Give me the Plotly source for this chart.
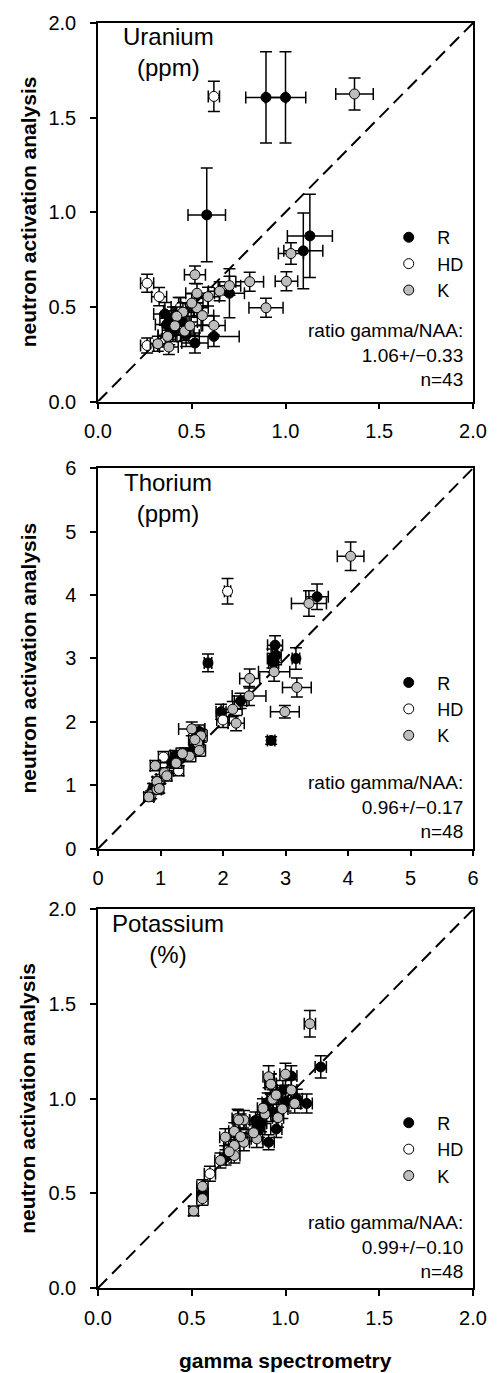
import plotly.graph_objects as go

# ---------------- data ----------------
groups = ["R", "HD", "K"]

# Uranium (ppm)
u_R_x = [0.896, 1.000, 0.580, 1.130, 1.095, 0.701, 0.618, 0.517, 0.357, 0.413, 0.366, 0.400, 0.450, 0.380, 0.470, 0.430]
u_R_y = [1.607, 1.607, 0.986, 0.875, 0.796, 0.572, 0.344, 0.309, 0.463, 0.377, 0.407, 0.440, 0.420, 0.350, 0.350, 0.480]
u_R_xe = [0.108, 0.108, 0.100, 0.120, 0.104, 0.080, 0.135, 0.070, 0.060, 0.070, 0.060, 0.070, 0.080, 0.060, 0.070, 0.080]
u_R_ye = [0.241, 0.241, 0.248, 0.220, 0.200, 0.130, 0.053, 0.053, 0.060, 0.060, 0.050, 0.060, 0.070, 0.050, 0.060, 0.070]
u_HD_x = [0.618, 0.262, 0.326, 0.262, 0.440]
u_HD_y = [1.612, 0.625, 0.554, 0.296, 0.500]
u_HD_xe = [0.030, 0.035, 0.040, 0.035, 0.050]
u_HD_ye = [0.080, 0.048, 0.048, 0.040, 0.050]
u_K_x = [1.368, 1.029, 0.517, 0.809, 1.005, 0.896, 0.701, 0.649, 0.587, 0.528, 0.528, 0.557, 0.453, 0.618, 0.462, 0.371, 0.319, 0.378, 0.420, 0.490, 0.410, 0.500]
u_K_y = [1.625, 0.782, 0.670, 0.633, 0.635, 0.495, 0.612, 0.583, 0.554, 0.572, 0.495, 0.454, 0.472, 0.402, 0.372, 0.344, 0.305, 0.288, 0.450, 0.400, 0.400, 0.520]
u_K_xe = [0.100, 0.067, 0.056, 0.074, 0.060, 0.091, 0.060, 0.060, 0.060, 0.060, 0.060, 0.060, 0.060, 0.060, 0.050, 0.050, 0.040, 0.050, 0.060, 0.060, 0.050, 0.060]
u_K_ye = [0.085, 0.057, 0.046, 0.050, 0.050, 0.050, 0.050, 0.050, 0.050, 0.050, 0.050, 0.050, 0.050, 0.050, 0.050, 0.050, 0.040, 0.040, 0.050, 0.050, 0.050, 0.050]

# Thorium (ppm)
t_R_x = [3.505, 2.833, 1.760, 3.167, 2.790, 2.810, 2.850, 2.770, 2.281, 1.969, 1.600, 1.540, 1.230, 1.180, 1.620, 0.950, 1.400, 0.880]
t_R_y = [3.974, 3.210, 2.930, 3.000, 3.000, 2.930, 3.050, 1.707, 2.330, 2.160, 1.750, 1.600, 1.470, 1.370, 1.850, 1.000, 1.500, 0.950]
t_R_xe = [0.180, 0.120, 0.060, 0.060, 0.080, 0.080, 0.080, 0.060, 0.100, 0.080, 0.080, 0.080, 0.070, 0.070, 0.080, 0.060, 0.080, 0.060]
t_R_ye = [0.200, 0.150, 0.140, 0.170, 0.150, 0.150, 0.150, 0.060, 0.120, 0.120, 0.100, 0.100, 0.080, 0.080, 0.100, 0.080, 0.090, 0.080]
t_HD_x = [2.073, 2.000, 1.047, 1.290, 0.850, 1.000]
t_HD_y = [4.060, 2.030, 1.445, 1.230, 0.850, 1.100]
t_HD_xe = [0.050, 0.100, 0.080, 0.080, 0.060, 0.070]
t_HD_ye = [0.200, 0.120, 0.090, 0.080, 0.060, 0.070]
t_K_x = [4.042, 3.375, 2.818, 2.427, 3.182, 2.417, 2.156, 2.990, 2.210, 1.500, 1.646, 1.594, 1.464, 0.917, 1.063, 0.943, 0.943, 0.813, 1.350, 1.620, 1.100, 0.980, 1.250, 1.550]
t_K_y = [4.613, 3.868, 2.790, 2.686, 2.544, 2.410, 2.200, 2.160, 1.980, 1.890, 1.780, 1.670, 1.460, 1.310, 1.197, 1.060, 0.935, 0.817, 1.500, 1.550, 1.150, 0.950, 1.350, 1.720]
t_K_xe = [0.213, 0.280, 0.250, 0.160, 0.230, 0.270, 0.150, 0.230, 0.130, 0.210, 0.100, 0.100, 0.100, 0.080, 0.080, 0.070, 0.070, 0.080, 0.100, 0.100, 0.080, 0.070, 0.090, 0.100]
t_K_ye = [0.225, 0.200, 0.150, 0.150, 0.150, 0.150, 0.120, 0.100, 0.120, 0.110, 0.100, 0.100, 0.090, 0.080, 0.080, 0.070, 0.070, 0.070, 0.090, 0.090, 0.080, 0.070, 0.080, 0.100]

# Potassium (%)
k_R_x = [1.188, 1.113, 1.031, 0.986, 1.000, 0.905, 0.852, 0.870, 0.840, 0.860, 0.951, 0.910, 0.557, 0.680, 0.930, 1.060]
k_R_y = [1.168, 0.975, 1.120, 1.046, 0.985, 0.980, 0.858, 0.870, 0.885, 0.840, 0.840, 0.770, 0.500, 0.690, 0.930, 1.000]
k_R_xe = [0.030] * 16
k_R_ye = [0.059, 0.050, 0.055, 0.050, 0.050, 0.050, 0.045, 0.045, 0.045, 0.045, 0.045, 0.040, 0.030, 0.040, 0.050, 0.050]
k_HD_x = [0.597, 0.745, 0.920, 0.760, 0.700]
k_HD_y = [0.604, 0.895, 1.080, 0.870, 0.750]
k_HD_xe = [0.030, 0.030, 0.030, 0.030, 0.030]
k_HD_ye = [0.040, 0.050, 0.050, 0.050, 0.045]
k_K_x = [1.130, 0.910, 1.000, 0.922, 1.031, 0.931, 1.049, 0.983, 0.891, 0.847, 0.778, 0.750, 0.727, 0.679, 0.727, 0.778, 0.727, 0.653, 0.557, 0.557, 0.510, 0.700, 0.760, 0.950, 0.880, 0.960, 0.830]
k_K_y = [1.396, 1.116, 1.130, 1.077, 1.046, 0.998, 0.975, 0.946, 0.919, 0.788, 0.888, 0.888, 0.828, 0.797, 0.753, 0.770, 0.700, 0.674, 0.537, 0.472, 0.407, 0.720, 0.800, 1.020, 0.950, 0.900, 0.820]
k_K_xe = [0.030, 0.030, 0.030, 0.030, 0.030, 0.030, 0.030, 0.030, 0.030, 0.030, 0.030, 0.030, 0.030, 0.030, 0.030, 0.030, 0.030, 0.030, 0.030, 0.030, 0.025, 0.030, 0.030, 0.030, 0.030, 0.030, 0.030]
k_K_ye = [0.070, 0.058, 0.058, 0.055, 0.055, 0.050, 0.050, 0.050, 0.050, 0.045, 0.050, 0.050, 0.045, 0.045, 0.045, 0.045, 0.040, 0.040, 0.035, 0.035, 0.025, 0.040, 0.045, 0.050, 0.050, 0.050, 0.045]

panel_titles = ["Uranium<br>(ppm)", "Thorium<br>(ppm)", "Potassium<br>(%)"]
ratio_texts = ["ratio gamma/NAA:<br>1.06+/\u22120.33<br>n=43",
               "ratio gamma/NAA:<br>0.96+/\u22120.17<br>n=48",
               "ratio gamma/NAA:<br>0.99+/\u22120.10<br>n=48"]
axis_max = [2, 6, 2]
axis_dtick = [0.5, 1, 0.5]
axis_fmt = [".1f", "d", ".1f"]
x_title = "gamma spectrometry"
y_title = "neutron activation analysis"

panels = [
    {"R": (u_R_x, u_R_y, u_R_xe, u_R_ye), "HD": (u_HD_x, u_HD_y, u_HD_xe, u_HD_ye), "K": (u_K_x, u_K_y, u_K_xe, u_K_ye)},
    {"R": (t_R_x, t_R_y, t_R_xe, t_R_ye), "HD": (t_HD_x, t_HD_y, t_HD_xe, t_HD_ye), "K": (t_K_x, t_K_y, t_K_xe, t_K_ye)},
    {"R": (k_R_x, k_R_y, k_R_xe, k_R_ye), "HD": (k_HD_x, k_HD_y, k_HD_xe, k_HD_ye), "K": (k_K_x, k_K_y, k_K_xe, k_K_ye)},
]

# ---------------- styling ----------------
FONT = "Liberation Sans, Arial, sans-serif"
fill = {"R": "#000000", "HD": "#ffffff", "K": "#bdbdbd"}
W, H = 499, 1373
ML, MR, MT, MB = 98, 17, 18, 85
plot_h = H - MT - MB
# panel pixel extents (top, bottom)
panel_px = [(18, 398), (465, 847), (908, 1288)]
def frac(py):
    return (H - MB - py) / plot_h

legend_y = [frac(260), frac(707), frac(1149)]

fig = go.Figure()
for i, pdata in enumerate(panels):
    sfx = "" if i == 0 else str(i + 1)
    xa, ya = "x" + sfx, "y" + sfx
    lg = "legend" + sfx
    m = axis_max[i]
    fig.add_trace(go.Scatter(x=[0, m], y=[0, m], mode="lines", xaxis=xa, yaxis=ya,
                             line=dict(color="black", width=2, dash="13px,7px"),
                             showlegend=False, hoverinfo="skip"))
    for g in groups:
        x, y, xe, ye = pdata[g]
        fig.add_trace(go.Scatter(
            x=x, y=y, mode="markers", name=g, xaxis=xa, yaxis=ya, legend=lg,
            marker=dict(size=10, color=fill[g], line=dict(color="black", width=1)),
            error_x=dict(type="data", array=xe, visible=True, color="black", thickness=1.5, width=6),
            error_y=dict(type="data", array=ye, visible=True, color="black", thickness=1.5, width=6),
        ))

layout = dict(
    width=W, height=H, margin=dict(l=ML, r=MR, t=MT, b=MB),
    paper_bgcolor="white", plot_bgcolor="white",
    font=dict(family=FONT, size=20, color="black"),
    annotations=[],
)
for i in range(3):
    sfx = "" if i == 0 else str(i + 1)
    top, bot = panel_px[i]
    axcommon = dict(range=[0, axis_max[i]], dtick=axis_dtick[i], tick0=0, tickformat=axis_fmt[i],
                    showline=True, linecolor="black", linewidth=1.5, mirror=True,
                    ticks="outside", ticklen=6, tickwidth=1.5, tickcolor="black",
                    showgrid=False, zeroline=False, tickfont=dict(size=20, family=FONT))
    layout["xaxis" + sfx] = dict(axcommon, domain=[0, 1], anchor="y" + sfx, ticklabelstandoff=5)
    layout["yaxis" + sfx] = dict(axcommon, domain=[frac(bot), frac(top)], anchor="x" + sfx, ticklabelstandoff=10)
    layout["legend" + sfx] = dict(x=(387 - ML) / 384, xanchor="left", y=legend_y[i], yanchor="middle",
                                  font=dict(size=18, family=FONT), bgcolor="rgba(0,0,0,0)",
                                  itemwidth=47, tracegroupgap=0)
    layout["annotations"].append(dict(text=panel_titles[i], xref="x%s domain" % sfx, yref="y%s domain" % sfx,
                                      x=0.187, y=0.923, xanchor="center", yanchor="middle", align="center",
                                      showarrow=False, font=dict(size=24, family=FONT)))
    layout["annotations"].append(dict(text=ratio_texts[i], xref="x%s domain" % sfx, yref="y%s domain" % sfx,
                                      x=(474 - ML) / 384, y=[0.122, 0.111, 0.109][i], xanchor="right",
                                      yanchor="middle", align="right",
                                      showarrow=False, font=dict(size=19, family=FONT)))
    layout["annotations"].append(dict(text="<b>%s</b>" % y_title, xref="paper", yref="paper",
                                      x=0, y=frac((top + bot) / 2), xanchor="center", yanchor="middle",
                                      xshift=28 - ML, textangle=-90, showarrow=False,
                                      font=dict(size=21, family=FONT)))
layout["annotations"].append(dict(text="<b>%s</b>" % x_title, xref="paper", yref="paper",
                                  x=(290 - ML) / 384, y=0, xanchor="center", yanchor="middle",
                                  yshift=-72, showarrow=False, font=dict(size=21, family=FONT)))
fig.update_layout(**layout)
fig.write_html("out.html")
